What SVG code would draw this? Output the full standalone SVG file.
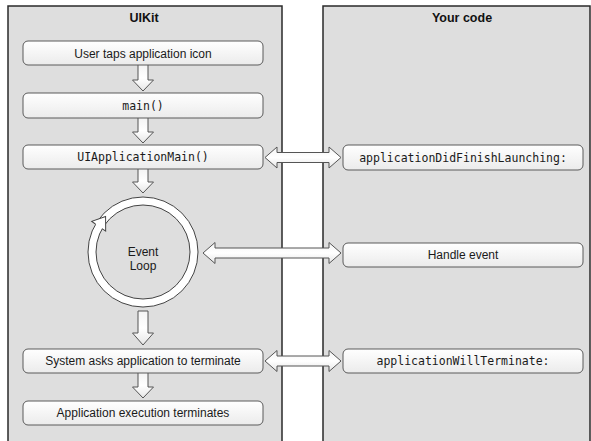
<svg xmlns="http://www.w3.org/2000/svg" width="591" height="441" viewBox="0 0 591 441">
  <defs>
    <linearGradient id="boxg" x1="0" y1="0" x2="0" y2="1">
      <stop offset="0" stop-color="#ffffff"/>
      <stop offset="1" stop-color="#ebebeb"/>
    </linearGradient>
    <linearGradient id="arrg" x1="0" y1="0" x2="0" y2="1">
      <stop offset="0" stop-color="#f4f4f4"/>
      <stop offset="0.5" stop-color="#ffffff"/>
      <stop offset="1" stop-color="#e6e6e6"/>
    </linearGradient>
    <style>
      .panel { fill: #dedede; stroke: #2a2a2a; stroke-width: 1.5; }
      .box { fill: url(#boxg); stroke: #5a5a5a; stroke-width: 1; }
      .shadow { fill: #bdbdbd; }
      .sans { font-family: "Liberation Sans", Arial, sans-serif; font-size: 12px; fill: #1a1a1a; text-anchor: middle; }
      .mono { font-family: "DejaVu Sans Mono", "Liberation Mono", monospace; font-size: 11.5px; fill: #1a1a1a; text-anchor: middle; }
      .title { font-family: "Liberation Sans", Arial, sans-serif; font-size: 12.5px; font-weight: bold; fill: #111; text-anchor: middle; }
      .arrow { fill: url(#arrg); stroke: #555; stroke-width: 1; stroke-linejoin: miter; }
      .ring { fill: #ffffff; stroke: #444; stroke-width: 1; }
      .ringin { fill: #dedede; stroke: #444; stroke-width: 1; }
    </style>
  </defs>

  <rect width="591" height="441" fill="#ffffff"/>

  <g id="panel-uikit">
    <rect class="panel" x="8" y="6" width="274" height="445"/>
    <text class="title" x="144" y="22">UIKit</text>
  </g>
  <g id="panel-yourcode">
    <rect class="panel" x="323" y="6" width="267" height="445"/>
    <text class="title" x="462" y="22">Your code</text>
  </g>

  <g id="connectors">
    <!-- vertical down arrows -->
    <path class="arrow" d="M138,65 L138,80 L132.5,80 L143,91 L153.5,80 L148,80 L148,65"/>
    <path class="arrow" d="M138,118 L138,132 L132.5,132 L143,143 L153.5,132 L148,132 L148,118"/>
    <path class="arrow" d="M138,169 L138,182 L132.5,182 L143,193 L153.5,182 L148,182 L148,169"/>
    <path class="arrow" d="M138,311 L138,333 L132.5,333 L143,345 L153.5,333 L148,333 L148,311 Z"/>
    <path class="arrow" d="M138,373 L138,387 L132.5,387 L143,398 L153.5,387 L148,387 L148,373"/>
    <!-- horizontal double arrows -->
    <path class="arrow" d="M265,157.5 L277,147 L277,152.5 L329,152.5 L329,147 L341,157.5 L329,168 L329,162.5 L277,162.5 L277,168 Z"/>
    <path class="arrow" d="M203,253 L215,242.5 L215,248 L329,248 L329,242.5 L341,253 L329,263.5 L329,258 L215,258 L215,263.5 Z"/>
    <path class="arrow" d="M265,361 L277,350.5 L277,356 L329,356 L329,350.5 L341,361 L329,371.5 L329,366 L277,366 L277,371.5 Z"/>
  </g>

  <g id="node-user-taps">
    <rect class="box" x="23" y="41" width="240" height="24" rx="5"/>
    <text class="sans" x="143" y="57.5">User taps application icon</text>
  </g>
  <g id="node-main">
    <rect class="box" x="23" y="93" width="240" height="25" rx="5"/>
    <text class="mono" x="143" y="109.5">main()</text>
  </g>
  <g id="node-uiapplicationmain">
    <rect class="box" x="23" y="145" width="240" height="24" rx="5"/>
    <text class="mono" x="143" y="161">UIApplicationMain()</text>
  </g>
  <g id="node-event-loop">
    <circle class="ring" cx="143" cy="252" r="55"/>
    <circle class="ringin" cx="143" cy="252" r="47"/>
    <g transform="translate(101,223) rotate(-55)">
      <polygon points="-4,-8.5 8,0 -4,8.5" fill="#ffffff"/>
      <path d="M-4,-4 L-4,-8.5 L8,0 L-4,8.5 L-4,4" fill="none" stroke="#444" stroke-width="1"/>
    </g>
    <text class="sans" x="143" y="256">Event</text>
    <text class="sans" x="143" y="270">Loop</text>
  </g>
  <g id="node-system-asks">
    <rect class="box" x="23" y="349" width="240" height="24" rx="5"/>
    <text class="sans" x="143" y="365">System asks application to terminate</text>
  </g>
  <g id="node-app-terminates">
    <rect class="box" x="23" y="401" width="240" height="24" rx="5"/>
    <text class="sans" x="143" y="417">Application execution terminates</text>
  </g>
  <g id="node-did-finish">
    <rect class="box" x="343" y="145" width="240" height="25" rx="5"/>
    <text class="mono" x="463" y="161.5">applicationDidFinishLaunching:</text>
  </g>
  <g id="node-handle-event">
    <rect class="box" x="343" y="243" width="240" height="24" rx="5"/>
    <text class="sans" x="463" y="259">Handle event</text>
  </g>
  <g id="node-will-terminate">
    <rect class="box" x="343" y="349" width="240" height="24" rx="5"/>
    <text class="mono" x="463" y="365">applicationWillTerminate:</text>
  </g>
</svg>
